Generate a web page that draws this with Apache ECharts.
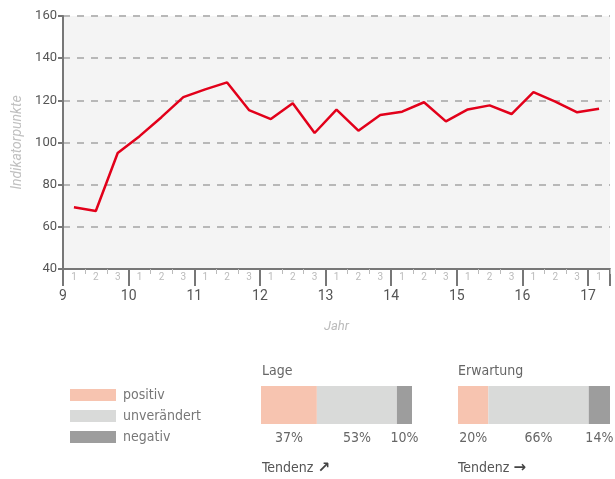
<!DOCTYPE html>
<html>
<head>
<meta charset="utf-8">
<script src="https://cdn.jsdelivr.net/npm/echarts@6/dist/echarts.min.js"></script>
<style>
  html, body { margin: 0; padding: 0; background: #fff; }
  #chart { width: 615px; height: 479px; }
</style>
</head>
<body>
<div id="chart"></div>
<script>
// Quartals-/Periodenwerte 2009.1 bis 2017.1
var periodLabels = ['1','2','3','1','2','3','1','2','3','1','2','3','1','2','3',
                    '1','2','3','1','2','3','1','2','3','1'];
var indexValues = [69.3, 67.5, 95.0, 103.0, 112.0, 121.5, 125.2, 128.5, 115.4,
                   111.1, 118.6, 104.5, 115.6, 105.6, 113.0, 114.6, 119.1, 110.0,
                   115.7, 117.6, 113.5, 123.9, 119.4, 114.3, 116.0];
var yearStart = 9;
var yTicks = [40, 160, 20]; // min, max, interval

// Umfrage-Anteile
var answerNames = ['positiv', 'unverändert', 'negativ'];
var answerColors = ['#f7c4b0', '#d9dad9', '#9d9d9d'];
var lageShares = [37, 53, 10];
var erwartungShares = [20, 66, 14];

var chart = echarts.init(document.getElementById('chart'));
var font = 'Roboto, sans-serif';
var narrow = '"Liberation Sans Narrow", "DejaVu Sans Condensed", sans-serif';

function shareSeries(shares, idx) {
    return answerNames.map(function (name, i) {
        return {
            name: name,
            type: 'bar',
            stack: 'share' + idx,
            xAxisIndex: idx + 2,
            yAxisIndex: idx + 1,
            barWidth: '100%',
            itemStyle: { color: answerColors[i] },
            label: {
                show: true, position: 'bottom', distance: 7,
                formatter: '{c}%', color: '#666', fontSize: 14, fontFamily: narrow
            },
            silent: true,
            data: [shares[i]]
        };
    });
}

function tendenz(x, arrow) {
    return {
        type: 'text', left: x, top: 461,
        style: {
            text: 'Tendenz {a|' + arrow + '}',
            fill: '#555', font: '14px ' + narrow,
            rich: { a: { fontWeight: 'bold', fontSize: 15, fontFamily: 'DejaVu Sans', fill: '#444' } }
        }
    };
}

var option = {
    animation: false,
    legend: {
        data: answerNames,
        orient: 'vertical',
        left: 70, top: 388,
        padding: 0,
        itemWidth: 46, itemHeight: 12, itemGap: 7,
        icon: 'rect',
        selectedMode: false,
        textStyle: { color: '#777', fontSize: 14, fontFamily: narrow, padding: [0, 0, 0, 2] }
    },
    grid: [
        { left: 63, top: 16, right: 5, height: 253, show: true, backgroundColor: '#f4f4f4', borderWidth: 0 },
        { left: 261, top: 386, width: 151, height: 38 },
        { left: 458, top: 386, width: 152, height: 38 }
    ],
    xAxis: [
        {   // Jahre
            type: 'value', gridIndex: 0,
            min: yearStart, max: yearStart + periodLabels.length / 3, interval: 1,
            name: 'Jahr', nameLocation: 'middle', nameGap: 51,
            nameTextStyle: { color: '#bbb', fontStyle: 'italic', fontSize: 13, fontFamily: font },
            axisLine: { lineStyle: { color: '#777', width: 2 } },
            axisTick: { length: 17, lineStyle: { color: '#777', width: 2 } },
            minorTick: { show: true, splitNumber: 3, length: 5, lineStyle: { color: '#bbb', width: 1 } },
            axisLabel: { color: '#555', fontSize: 14, fontFamily: font, margin: 20,
                formatter: function (v) { return Math.round(v) === v ? String(v) : ''; } },
            splitLine: { show: false }
        },
        {   // Perioden
            type: 'category', gridIndex: 0, position: 'bottom',
            data: periodLabels, boundaryGap: true,
            axisLine: { show: false },
            axisTick: { show: false },
            axisLabel: { color: '#bbb', fontSize: 10, fontFamily: font, margin: 3, interval: 0 }
        },
        { type: 'value', gridIndex: 1, min: 0, max: 100, show: false },
        { type: 'value', gridIndex: 2, min: 0, max: 100, show: false }
    ],
    yAxis: [
        {
            type: 'value', gridIndex: 0,
            min: yTicks[0], max: yTicks[1], interval: yTicks[2],
            name: 'Indikatorpunkte', nameLocation: 'middle', nameGap: 38,
            nameTextStyle: { color: '#c0c0c0', fontStyle: 'italic', fontSize: 14, fontFamily: font },
            axisLine: { show: true, lineStyle: { color: '#777', width: 2 } },
            axisTick: { show: true, length: 5, lineStyle: { color: '#777', width: 2 } },
            axisLabel: { color: '#555', fontSize: 13, fontFamily: font, margin: 6 },
            splitLine: { lineStyle: { color: '#b8b8b8', width: 2, type: [7, 7] } }
        },
        { type: 'category', gridIndex: 1, data: ['Lage'], show: false },
        { type: 'category', gridIndex: 2, data: ['Erwartung'], show: false }
    ],
    graphic: [
        { type: 'text', left: 262, top: 364, style: { text: 'Lage', fill: '#666', font: '14px ' + narrow } },
        { type: 'text', left: 458, top: 364, style: { text: 'Erwartung', fill: '#666', font: '14px ' + narrow } },
        tendenz(262, '↗'),
        tendenz(458, '→')
    ],
    series: [
        {
            name: 'Index',
            type: 'line',
            xAxisIndex: 1, yAxisIndex: 0,
            data: indexValues,
            symbol: 'none',
            lineStyle: { color: '#e2001a', width: 2.5 },
            silent: true
        }
    ].concat(shareSeries(lageShares, 0), shareSeries(erwartungShares, 1))
};

chart.setOption(option);
</script>
</body>
</html>
